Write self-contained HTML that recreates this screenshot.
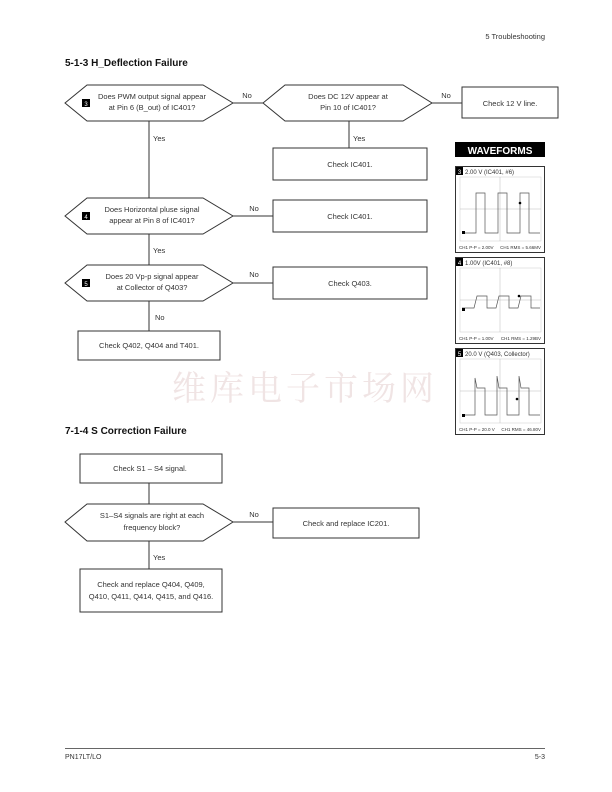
<!DOCTYPE html>
<html><head><meta charset="utf-8"><style>
html,body{margin:0;padding:0;background:#fff}
svg{display:block}
text{font-family:"Liberation Sans Narrow","Liberation Sans",sans-serif;fill:#333}
</style></head><body>
<svg width="612" height="792" viewBox="0 0 612 792" xmlns="http://www.w3.org/2000/svg">
<text x="545" y="39" font-size="7.5" text-anchor="end">5 Troubleshooting</text>
<text x="65" y="66" font-size="10" font-weight="bold" fill="#111" style="fill:#111">5-1-3 H_Deflection Failure</text>

<g stroke="#333" stroke-width="1" fill="none">
<!-- connectors -->
<line x1="233" y1="103" x2="263" y2="103"/>
<line x1="432" y1="103" x2="462" y2="103"/>
<line x1="349" y1="121" x2="349" y2="148"/>
<line x1="149" y1="121" x2="149" y2="198"/>
<line x1="233" y1="216" x2="273" y2="216"/>
<line x1="149" y1="234" x2="149" y2="265"/>
<line x1="233" y1="283" x2="273" y2="283"/>
<line x1="149" y1="301" x2="149" y2="331"/>
<!-- shapes -->
<polygon points="65,103 87,85 203,85 233,103 203,121 87,121" fill="#fff"/>
<polygon points="263,103 285,85 403,85 432,103 403,121 285,121" fill="#fff"/>
<rect x="462" y="87" width="96" height="31" fill="#fff"/>
<rect x="273" y="148" width="154" height="32" fill="#fff"/>
<polygon points="65,216 87,198 203,198 233,216 203,234 87,234" fill="#fff"/>
<rect x="273" y="200" width="154" height="32" fill="#fff"/>
<polygon points="65,283 87,265 203,265 233,283 203,301 87,301" fill="#fff"/>
<rect x="273" y="267" width="154" height="32" fill="#fff"/>
<rect x="78" y="331" width="142" height="29" fill="#fff"/>
</g>
<g font-size="7.5">
<rect x="82" y="99" width="8" height="8" fill="#000"/><text x="86" y="106" font-size="6" text-anchor="middle" style="fill:#fff">3</text>
<text x="152" y="99" text-anchor="middle">Does PWM output signal appear</text>
<text x="152" y="110" text-anchor="middle">at Pin 6 (B_out) of IC401?</text>
<text x="247" y="98" text-anchor="middle">No</text>
<text x="348" y="99" text-anchor="middle">Does DC 12V appear at</text>
<text x="348" y="110" text-anchor="middle">Pin 10 of IC401?</text>
<text x="446" y="98" text-anchor="middle">No</text>
<text x="510" y="106" text-anchor="middle">Check 12 V line.</text>
<text x="153" y="141">Yes</text>
<text x="353" y="141">Yes</text>
<text x="350" y="167" text-anchor="middle">Check IC401.</text>
<rect x="82" y="212" width="8" height="8" fill="#000"/><text x="86" y="219" font-size="6" text-anchor="middle" style="fill:#fff">4</text>
<text x="152" y="212" text-anchor="middle">Does Horizontal pluse signal</text>
<text x="152" y="223" text-anchor="middle">appear at Pin 8 of IC401?</text>
<text x="254" y="211" text-anchor="middle">No</text>
<text x="350" y="219" text-anchor="middle">Check IC401.</text>
<text x="153" y="253">Yes</text>
<rect x="82" y="279" width="8" height="8" fill="#000"/><text x="86" y="286" font-size="6" text-anchor="middle" style="fill:#fff">5</text>
<text x="152" y="279" text-anchor="middle">Does 20 Vp-p signal appear</text>
<text x="152" y="290" text-anchor="middle">at Collector of Q403?</text>
<text x="254" y="277" text-anchor="middle">No</text>
<text x="350" y="286" text-anchor="middle">Check Q403.</text>
<text x="155" y="320">No</text>
<text x="149" y="348" text-anchor="middle">Check Q402, Q404 and T401.</text>
</g>

<text x="305" y="400" font-size="34" text-anchor="middle" style="fill:#f0e4e4;font-family:'Noto Serif CJK SC','Noto Sans CJK SC',serif" letter-spacing="4">维库电子市场网</text>

<!-- waveforms -->
<rect x="455" y="142" width="90" height="15" fill="#000"/>
<text x="500" y="154" font-size="10" font-weight="bold" text-anchor="middle" style="fill:#fff">WAVEFORMS</text>
<g font-size="6">
<g transform="translate(0,0)">
<rect x="455.5" y="166.5" width="89" height="86" fill="#fff" stroke="#333"/>
<rect x="456" y="167" width="7" height="8" fill="#000"/><text x="459.5" y="174" text-anchor="middle" style="fill:#fff">3</text>
<text x="465" y="174">2.00 V (IC401, #6)</text>
<rect x="460" y="177" width="81" height="64" fill="none" stroke="#ccc" stroke-width="0.5"/>
<line x1="500" y1="177" x2="500" y2="241" stroke="#bbb" stroke-width="0.5"/>
<line x1="460" y1="209" x2="541" y2="209" stroke="#bbb" stroke-width="0.5"/>
<polyline points="462,233 476,233 476,193 485,193 485,233 498,233 498,193 507,193 507,233 520,233 520,193 529,193 529,233 540,233" fill="none" stroke="#555" stroke-width="0.7"/>
<rect x="462" y="231" width="3" height="3" fill="#000"/><circle cx="520" cy="203" r="1.3" fill="#000"/>
<text x="459" y="249" font-size="4.5">CH1 P-P = 2.00V</text><text x="541" y="249" font-size="4.5" text-anchor="end">CH1 RMS = 5.66MV</text>
</g>
<g>
<rect x="455.5" y="257.5" width="89" height="86" fill="#fff" stroke="#333"/>
<rect x="456" y="258" width="7" height="8" fill="#000"/><text x="459.5" y="265" text-anchor="middle" style="fill:#fff">4</text>
<text x="465" y="265">1.00V (IC401, #8)</text>
<rect x="460" y="268" width="81" height="64" fill="none" stroke="#ccc" stroke-width="0.5"/>
<line x1="500" y1="268" x2="500" y2="332" stroke="#bbb" stroke-width="0.5"/>
<line x1="460" y1="300" x2="541" y2="300" stroke="#bbb" stroke-width="0.5"/>
<polyline points="462,308 474,308 477,296 487,296 487,308 496,308 499,296 509,296 509,308 518,308 521,296 531,296 531,308 540,308" fill="none" stroke="#555" stroke-width="0.7"/>
<rect x="462" y="308" width="3" height="3" fill="#000"/><circle cx="519" cy="296" r="1.3" fill="#000"/>
<text x="459" y="340" font-size="4.5">CH1 P-P = 1.00V</text><text x="541" y="340" font-size="4.5" text-anchor="end">CH1 RMS = 1.29BV</text>
</g>
<g>
<rect x="455.5" y="348.5" width="89" height="86" fill="#fff" stroke="#333"/>
<rect x="456" y="349" width="7" height="8" fill="#000"/><text x="459.5" y="356" text-anchor="middle" style="fill:#fff">5</text>
<text x="465" y="356">20.0 V (Q403, Collector)</text>
<rect x="460" y="359" width="81" height="64" fill="none" stroke="#ccc" stroke-width="0.5"/>
<line x1="500" y1="359" x2="500" y2="423" stroke="#bbb" stroke-width="0.5"/>
<line x1="460" y1="391" x2="541" y2="391" stroke="#bbb" stroke-width="0.5"/>
<polyline points="462,415 475,415 475,378 477,388 485,388 485,415 497,415 497,376 499,388 507,388 507,415 519,415 519,376 521,388 529,388 529,415 540,415" fill="none" stroke="#555" stroke-width="0.7"/>
<rect x="462" y="414" width="3" height="3" fill="#000"/><circle cx="517" cy="399" r="1.3" fill="#000"/>
<text x="459" y="431" font-size="4.5">CH1 P-P = 20.0 V</text><text x="541" y="431" font-size="4.5" text-anchor="end">CH1 RMS = 46.80V</text>
</g>
</g>

<text x="65" y="434" font-size="10" font-weight="bold" style="fill:#111">7-1-4 S Correction Failure</text>
<g stroke="#333" stroke-width="1" fill="none">
<line x1="149" y1="483" x2="149" y2="504"/>
<line x1="233" y1="522" x2="273" y2="522"/>
<line x1="149" y1="541" x2="149" y2="569"/>
<rect x="80" y="454" width="142" height="29" fill="#fff"/>
<polygon points="65,522 87,504 203,504 233,522 203,541 87,541" fill="#fff"/>
<rect x="273" y="508" width="146" height="30" fill="#fff"/>
<rect x="80" y="569" width="142" height="43" fill="#fff"/>
</g>
<g font-size="7.5">
<text x="150" y="471" text-anchor="middle">Check S1 – S4 signal.</text>
<text x="152" y="518" text-anchor="middle">S1–S4 signals are right at each</text>
<text x="152" y="530" text-anchor="middle">frequency block?</text>
<text x="254" y="517" text-anchor="middle">No</text>
<text x="346" y="526" text-anchor="middle">Check and replace IC201.</text>
<text x="153" y="560">Yes</text>
<text x="151" y="587" text-anchor="middle">Check and replace Q404, Q409,</text>
<text x="151" y="599" text-anchor="middle">Q410, Q411, Q414, Q415, and Q416.</text>
</g>

<line x1="65" y1="748.5" x2="545" y2="748.5" stroke="#333" stroke-width="0.8"/>
<text x="65" y="759" font-size="7">PN17LT/LO</text>
<text x="545" y="759" font-size="7" text-anchor="end">5-3</text>
</svg>
</body></html>
